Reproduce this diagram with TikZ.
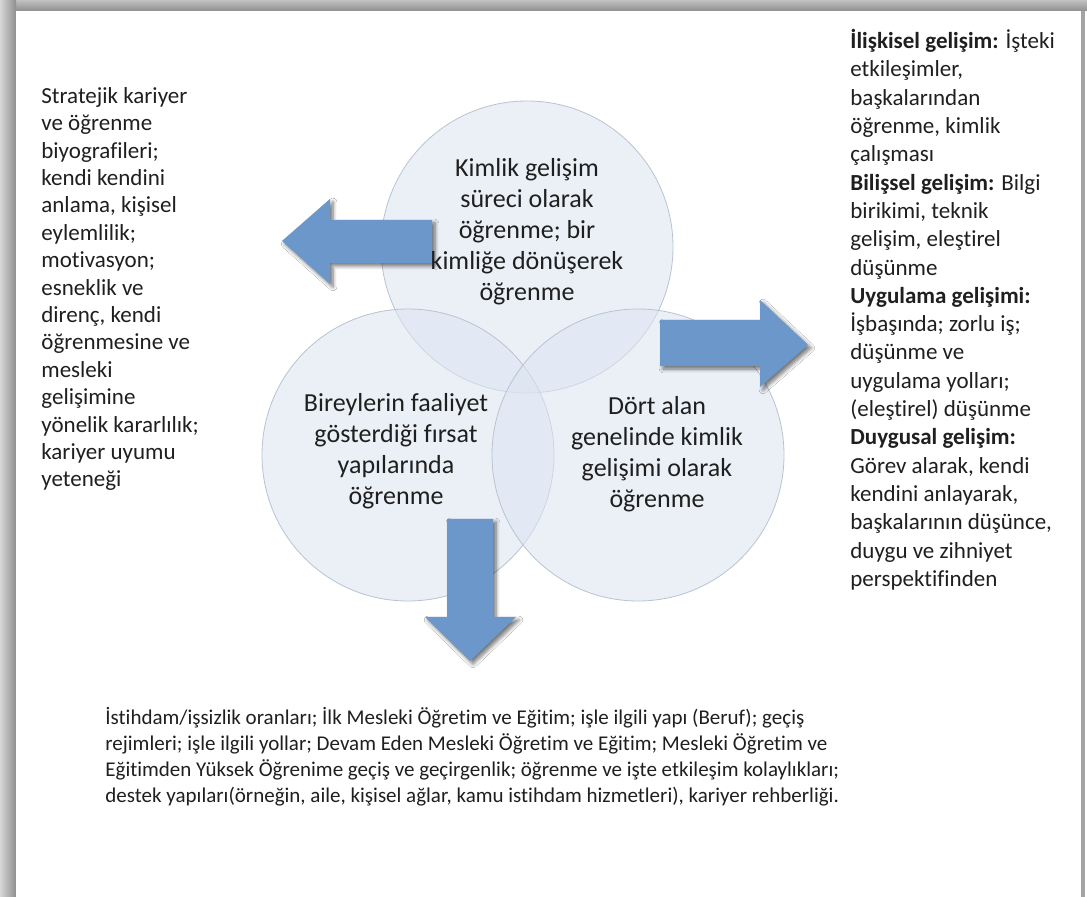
\documentclass[tikz,border=0pt]{standalone}
\usepackage{fontspec}
\setmainfont{Carlito}[Ligatures=NoCommon]
\usepackage{tikz}
\usetikzlibrary{positioning}
\usetikzlibrary{shadows,shadows.blur}
\definecolor{arrowblue}{HTML}{6C97CA}
\definecolor{vennfill}{HTML}{DCE5F2}
\definecolor{venndraw}{HTML}{B9C3D1}
\definecolor{framegrey}{HTML}{8E8E8E}
\colorlet{textgrey}{black!88}
\tikzstyle{venn}=[circle,draw=venndraw,fill=vennfill,fill opacity=0.55,minimum size=146pt,inner sep=0]
\tikzstyle{bigarrow}=[fill=arrowblue,draw=none,blur shadow={shadow blur steps=6,shadow xshift=1.5pt,shadow yshift=-1.5pt,shadow opacity=55}]
\tikzstyle{sidetext}=[align=left,anchor=north west,inner sep=0,text=textgrey,font=\fontsize{11.5}{13.7}\selectfont]
\tikzstyle{venntext}=[align=center,inner sep=0,text=textgrey,font=\fontsize{13}{15.5}\selectfont]

\begin{document}
\begin{tikzpicture}[x=0.5pt,y=-0.5pt]

      \useasboundingbox (0,0) rectangle (1087,897);

      % frame
      \fill[top color=framegrey!55,bottom color=framegrey] (0,0) rectangle (1087,11);
      \fill[left color=framegrey!35,right color=framegrey] (0,0) rectangle (16,897);
      \fill[white] (16,11) rectangle (1081,897);
      \fill[framegrey!80] (1081,11) rectangle (1085,897);

      % circles
      \node[venn] (circle_identity) at (527,247) {};
      \node[venn] (circle_structures) at (408,455) {};
      \node[venn] (circle_domains) at (638,455) {};

      % arrows
      \path[bigarrow] (432,220) -- (330,220) -- (330,199) -- (282,241) -- (330,284) -- (330,263) -- (432,263) -- cycle;
      \path[bigarrow] (660,320) -- (760,320) -- (760,300) -- (808,345) -- (760,387) -- (760,366) -- (660,366) -- cycle;
      \path[bigarrow] (447,519) -- (493,519) -- (493,617) -- (516,617) -- (470,661) -- (425,617) -- (447,617) -- cycle;

      % circle texts
      \node[venntext] (text_identity) at (527,232) {Kimlik gelişim\\süreci olarak\\öğrenme; bir\\kimliğe dönüşerek\\öğrenme};
      \node[venntext] (text_structures) at (396,451) {Bireylerin faaliyet\\gösterdiği fırsat\\yapılarında\\öğrenme};
      \node[venntext] (text_domains) at (657,454) {Dört alan\\genelinde kimlik\\gelişimi olarak\\öğrenme};

      % side texts
      \node[sidetext] (text_left) at (41,87) {Stratejik kariyer\\ve öğrenme\\biyografileri;\\kendi kendini\\anlama, kişisel\\eylemlilik;\\motivasyon;\\esneklik ve\\direnç, kendi\\öğrenmesine ve\\mesleki\\gelişimine\\yönelik kararlılık;\\kariyer uyumu\\yeteneği};

      \node[sidetext,font=\fontsize{11.5}{14.15}\selectfont] (text_right) at (850,29) {\textbf{İlişkisel gelişim:} İşteki\\etkileşimler,\\başkalarından\\öğrenme, kimlik\\çalışması\\\textbf{Bilişsel gelişim:} Bilgi\\birikimi, teknik\\gelişim, eleştirel\\düşünme\\\textbf{Uygulama gelişimi:}\\İşbaşında; zorlu iş;\\düşünme ve\\uygulama yolları;\\(eleştirel) düşünme\\\textbf{Duygusal gelişim:}\\Görev alarak, kendi\\kendini anlayarak,\\başkalarının düşünce,\\duygu ve zihniyet\\perspektifinden};

      \node[sidetext,font=\fontsize{10.5}{13}\selectfont] (text_bottom) at (105,707) {İstihdam/işsizlik oranları; İlk Mesleki Öğretim ve Eğitim; işle ilgili yapı (Beruf); geçiş\\rejimleri; işle ilgili yollar; Devam Eden Mesleki Öğretim ve Eğitim; Mesleki Öğretim ve\\Eğitimden Yüksek Öğrenime geçiş ve geçirgenlik; öğrenme ve işte etkileşim kolaylıkları;\\destek yapıları(örneğin, aile, kişisel ağlar, kamu istihdam hizmetleri), kariyer rehberliği.};

\end{tikzpicture}
\end{document}
